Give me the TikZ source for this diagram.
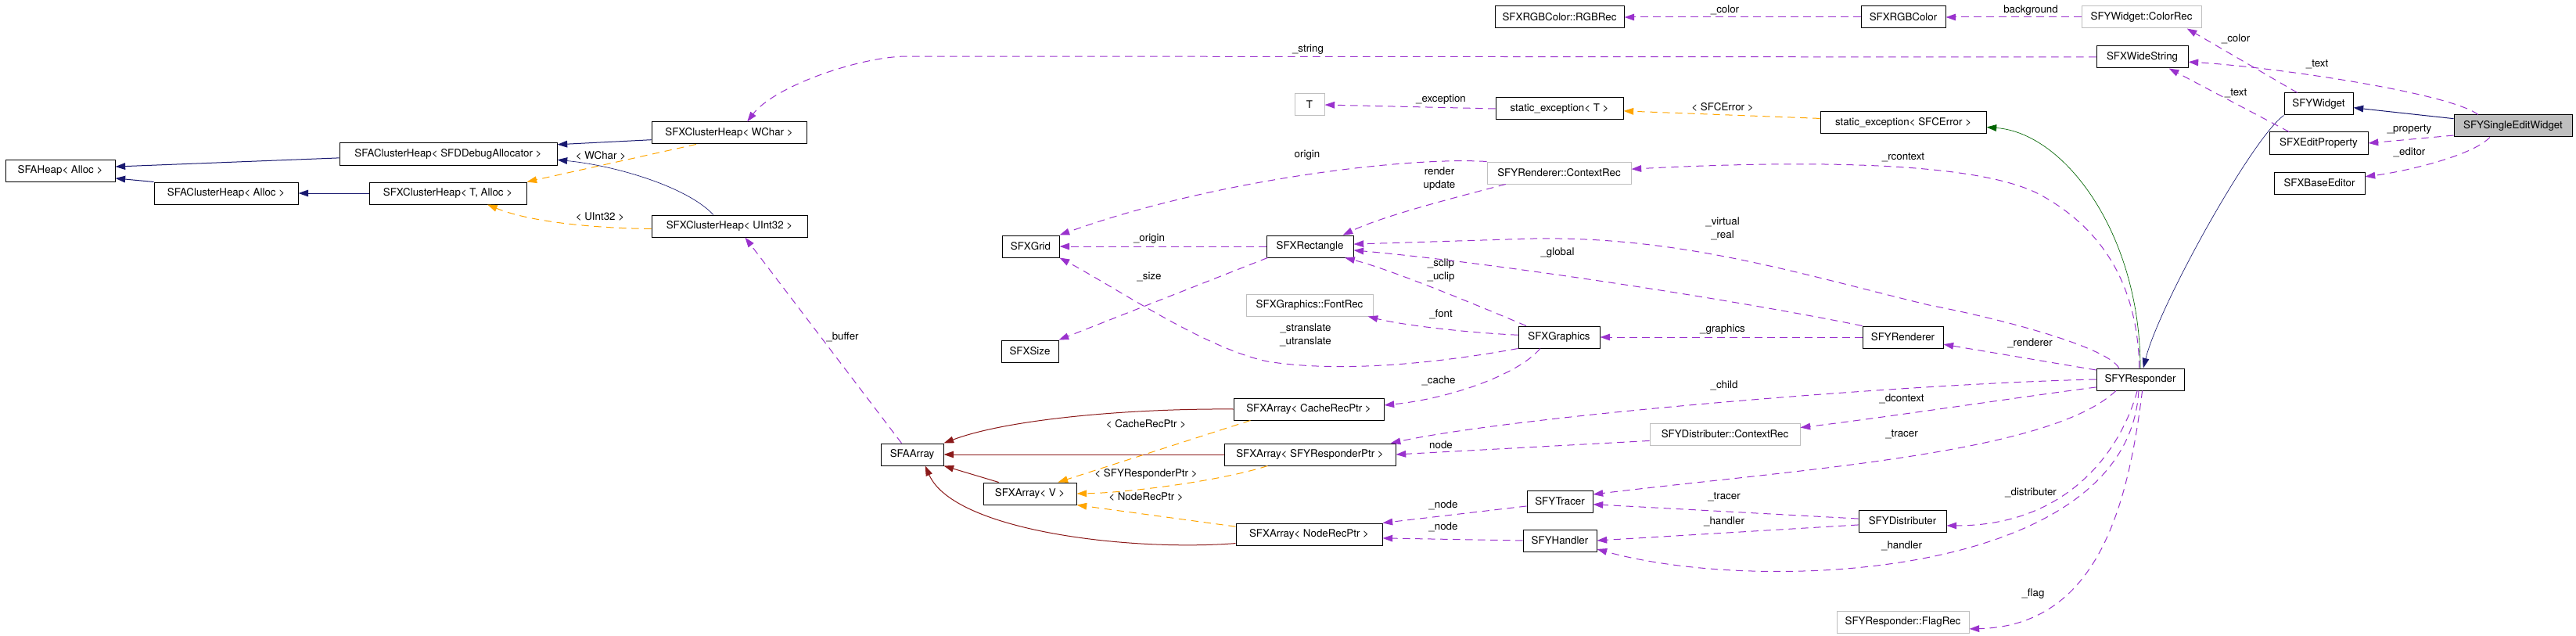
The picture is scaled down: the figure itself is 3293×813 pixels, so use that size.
\documentclass[tikz,border=0pt]{standalone}
\usepackage{fontspec}
\setmainfont{TeX Gyre Heros}
\usetikzlibrary{arrows.meta}
\definecolor{relpurple}{RGB}{154,50,205}
\definecolor{inhnavy}{RGB}{25,25,112}
\definecolor{arrred}{RGB}{139,26,26}
\definecolor{tmplorange}{RGB}{255,165,0}
\definecolor{privgreen}{RGB}{0,100,0}
\definecolor{undocgray}{RGB}{191,191,191}

\begin{document}
\begin{tikzpicture}[x=0.75pt, y=-0.75pt, >={Triangle[length=9.5pt,width=6.5pt]}, font=\fontsize{10}{12}\selectfont,
  cls/.style={rectangle, draw=black, line width=0.75pt, minimum height=21pt, inner sep=2pt},
  undoc/.style={cls, draw=undocgray},
  focus/.style={cls, fill=undocgray},
  lbl/.style={inner sep=0pt, align=center, text=black, font=\fontsize{10}{12.75}\selectfont},
  member/.style={->, relpurple, line width=0.75pt, dash pattern=on 7pt off 5pt},
  tmpl/.style={->, tmplorange, line width=0.75pt, dash pattern=on 7pt off 5pt},
  pubinh/.style={->, inhnavy, line width=0.75pt},
  arrinh/.style={->, arrred, line width=0.75pt},
  privinh/.style={->, privgreen, line width=0.75pt}]
\useasboundingbox (0,0) rectangle (3293,813);
\node[cls, minimum width=105pt] (heap) at (77,218) {SFAHeap< Alloc >};
\node[cls, minimum width=208.5pt] (chdbg) at (573,197) {SFAClusterHeap< SFDDebugAllocator >};
\node[cls, minimum width=138pt] (challoc) at (289,247) {SFAClusterHeap< Alloc >};
\node[cls, minimum width=150.75pt] (xcht) at (572.5,247) {SFXClusterHeap< T, Alloc >};
\node[cls, minimum width=148.5pt] (xchw) at (932,170) {SFXClusterHeap< WChar >};
\node[cls, minimum width=149.25pt] (xchu) at (932.5,289) {SFXClusterHeap< UInt32 >};
\node[cls, minimum width=123.75pt] (rgbrec) at (1993.5,22) {SFXRGBColor::RGBRec};
\node[cls, minimum width=81pt] (rgb) at (2433,22) {SFXRGBColor};
\node[undoc, minimum width=114.75pt] (colrec) at (2737.5,22) {SFYWidget::ColorRec};
\node[cls, minimum width=87.75pt] (wstr) at (2738.5,73) {SFXWideString};
\node[cls, minimum width=66pt] (widget) at (2964,133) {SFYWidget};
\node[focus, minimum width=113.25pt] (single) at (3212.5,161) {SFYSingleEditWidget};
\node[cls, minimum width=94.5pt] (eprop) at (2964,183) {SFXEditProperty};
\node[cls, minimum width=87pt] (beditor) at (2965,234) {SFXBaseEditor};
\node[cls, minimum width=159pt] (sexerr) at (2433,157) {static\_exception< SFCError >};
\node[undoc, minimum width=28.5pt] (typet) at (1674,134) {T};
\node[cls, minimum width=122.25pt] (sext) at (1993.5,139) {static\_exception< T >};
\node[undoc, minimum width=138pt] (rctx) at (1993,221) {SFYRenderer::ContextRec};
\node[cls, minimum width=54.75pt] (grid) at (1317.5,315) {SFXGrid};
\node[cls, minimum width=83.25pt] (rect) at (1674.5,315) {SFXRectangle};
\node[undoc, minimum width=121.5pt] (fontrec) at (1674,390) {SFXGraphics::FontRec};
\node[cls, minimum width=54.75pt] (size) at (1316.5,449) {SFXSize};
\node[cls, minimum width=78pt] (graphics) at (1993,431) {SFXGraphics};
\node[cls, minimum width=144pt] (cache) at (1673,523) {SFXArray< CacheRecPtr >};
\node[cls, minimum width=60pt] (aarr) at (1166,581) {SFAArray};
\node[cls, minimum width=164.25pt] (rparr) at (1674.5,581) {SFXArray< SFYResponderPtr >};
\node[cls, minimum width=89.25pt] (varr) at (1316.5,631) {SFXArray< V >};
\node[cls, minimum width=140.25pt] (nodearr) at (1673.5,683) {SFXArray< NodeRecPtr >};
\node[cls, minimum width=63pt] (tracer) at (1994,641) {SFYTracer};
\node[cls, minimum width=70.5pt] (handler) at (1994,691) {SFYHandler};
\node[cls, minimum width=77.25pt] (renderer) at (2432.5,431) {SFYRenderer};
\node[cls, minimum width=84pt] (responder) at (2736,485) {SFYResponder};
\node[undoc, minimum width=144pt] (dctx) at (2205,555) {SFYDistributer::ContextRec};
\node[cls, minimum width=84pt] (distr) at (2432,666) {SFYDistributer};
\node[undoc, minimum width=126.75pt] (flag) at (2432.5,795) {SFYResponder::FlagRec};
\draw[pubinh] (xchw.185) -- (chdbg.5);
\draw[pubinh] (chdbg.182) -- (heap.4);
\draw[pubinh] (challoc.north west) -- (heap.-8);
\draw[pubinh] (xcht.west) -- (challoc.east);
\draw[pubinh, line width=0.5pt] (xchu.145) .. controls (880,240) and (790,212) .. (chdbg.-3);
\draw[pubinh] (single.173) -- (widget.-6);
\draw[pubinh, line width=0.5pt] (widget.south west) .. controls (2880,175) and (2760,390) .. (responder.75);
\draw[privinh, line width=0.5pt] (responder.north) .. controls (2736,300) and (2640,170) .. (sexerr.-3);
\draw[arrinh] (cache.west) .. controls (1450,522) and (1290,535) .. (aarr.north east);
\draw[arrinh] (rparr.west) -- (aarr.east);
\draw[arrinh] (varr.160) -- (aarr.south east);
\draw[arrinh] (nodearr.187) .. controls (1450,705) and (1220,680) .. (aarr.-41);
\draw[tmpl] (xchw.199) -- (xcht.north east) node[lbl] at (768,199) {< WChar >};
\draw[tmpl] (xchu.182) .. controls (770,292) and (680,285) .. (xcht.-16) node[lbl] at (767,277) {< UInt32 >};
\draw[tmpl] (sexerr.177) -- (sext.-2) node[lbl] at (2202,137) {< SFCError >};
\draw[tmpl] (cache.191) -- (varr.22) node[lbl] at (1465,542) {< CacheRecPtr >};
\draw[tmpl] (rparr.195) .. controls (1560,615) and (1440,630) .. (varr.east) node[lbl] at (1465,606) {< SFYResponderPtr >};
\draw[tmpl] (nodearr.174) -- (varr.south east) node[lbl] at (1465,635) {< NodeRecPtr >};
\draw[member] (wstr.west) -- (1160,72) .. controls (1100,72) and (990,110) .. (xchw.32) node[lbl] at (1672,63) {\_string};
\draw[member] (aarr.133) -- (xchu.-36) node[lbl] at (1077,431) {\_buffer};
\draw[member] (sext.west) -- (typet.east) node[lbl] at (1842,127) {\_exception};
\draw[member] (rgb.west) -- (rgbrec.east) node[lbl] at (2205,13) {\_color};
\draw[member] (colrec.west) -- (rgb.east) node[lbl] at (2596,13) {background};
\draw[member] (widget.152) -- (colrec.-14) node[lbl] at (2858,50) {\_color};
\draw[member] (single.162) .. controls (3130,118) and (2900,85) .. (wstr.-6) node[lbl] at (2962,82) {\_text};
\draw[member] (eprop.159) -- (wstr.-23) node[lbl] at (2858,119) {\_text};
\draw[member] (single.189) -- (eprop.east) node[lbl] at (3080,166) {\_property};
\draw[member] (single.206) .. controls (3160,200) and (3070,220) .. (beditor.8) node[lbl] at (3080,195) {\_editor};
\draw[member] (rctx.north west) .. controls (1800,200) and (1550,230) .. (grid.north east) node[lbl] at (1671,198) {origin};
\draw[member] (rctx.192) .. controls (1870,250) and (1770,275) .. (rect.19) node[lbl] at (1840,229) {render\\update};
\draw[member] (rect.west) -- (grid.east) node[lbl] at (1469,305) {\_origin};
\draw[member] (rect.195) -- (size.north east) node[lbl] at (1469,354) {\_size};
\draw[member] (graphics.south west) .. controls (1850,462) and (1720,478) .. (1620,462) .. controls (1540,445) and (1430,370) .. (grid.south east) node[lbl] at (1669,428) {\_stranslate\\\_utranslate};
\draw[member] (graphics.161) .. controls (1900,395) and (1780,345) .. (rect.-18) node[lbl] at (1842,346) {\_sclip\\\_uclip};
\draw[member] (graphics.177) .. controls (1870,425) and (1790,415) .. (fontrec.-11) node[lbl] at (1842,402) {\_font};
\draw[member] (graphics.211) .. controls (1940,480) and (1850,510) .. (cache.3) node[lbl] at (1839,487) {\_cache};
\draw[member] (renderer.west) -- (graphics.east) node[lbl] at (2202,421) {\_graphics};
\draw[member] (renderer.north west) .. controls (2200,380) and (1900,335) .. (rect.-5) node[lbl] at (1991,323) {\_global};
\draw[member] (responder.152) .. controls (2695,445) and (2570,410) .. (2466,390) .. controls (2300,350) and (2150,302) .. (1960,305) -- (rect.3) node[lbl] at (2202,292) {\_virtual\\\_real};
\draw[member] (responder.95) .. controls (2733,380) and (2700,300) .. (2610,250) .. controls (2530,205) and (2300,205) .. (rctx.3) node[lbl] at (2433,201) {\_rcontext};
\draw[member] (responder.168) -- (renderer.-10) node[lbl] at (2595,439) {\_renderer};
\draw[member] (responder.west) .. controls (2450,490) and (1950,530) .. (rparr.8) node[lbl] at (2204,493) {\_child};
\draw[member] (responder.190) .. controls (2600,505) and (2400,535) .. (dctx.5) node[lbl] at (2431,510) {\_dcontext};
\draw[member] (dctx.185) -- (rparr.east) node[lbl] at (1842,569) {node};
\draw[member] (responder.205) .. controls (2620,580) and (2300,600) .. (tracer.12) node[lbl] at (2431,555) {\_tracer};
\draw[member] (distr.177) -- (tracer.-5) node[lbl] at (2204,635) {\_tracer};
\draw[member] (distr.185) -- (handler.east) node[lbl] at (2204,667) {\_handler};
\draw[member] (responder.255) .. controls (2710,580) and (2640,672) .. (distr.-6) node[lbl] at (2596,630) {\_distributer};
\draw[member] (responder.262) .. controls (2720,740) and (2250,760) .. (handler.-13) node[lbl] at (2431,698) {\_handler};
\draw[member] (responder.280) .. controls (2720,650) and (2680,800) .. (flag.-6) node[lbl] at (2599,759) {\_flag};
\draw[member] (tracer.188) -- (nodearr.north east) node[lbl] at (1845,646) {\_node};
\draw[member] (handler.west) -- (nodearr.-3) node[lbl] at (1845,674) {\_node};
\end{tikzpicture}
\end{document}
